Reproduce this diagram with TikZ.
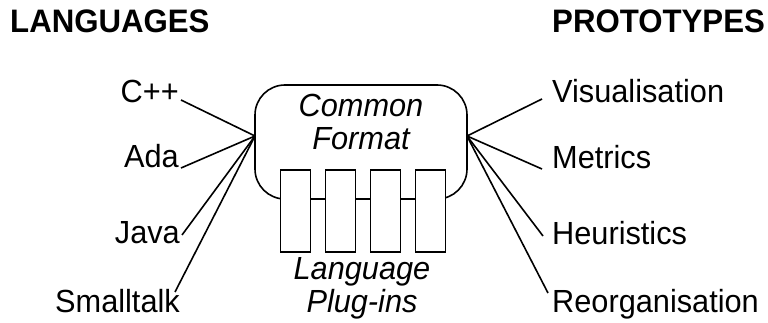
\documentclass[tikz,border=0pt]{standalone}
\usepackage{fontspec}
\setmainfont{Liberation Sans}[FakeStretch=0.96]
\usepackage{tikz}
\tikzset{
    format-box/.style = {draw, fill=white, line width=1.6pt, rectangle, rounded corners=30pt, minimum width=212pt, minimum height=114pt, inner sep=0pt, outer sep=0pt},
    plugin-box/.style = {draw, fill=white, line width=1.6pt, rectangle, minimum width=30pt, minimum height=82pt, inner sep=0pt, outer sep=0pt},
    label-text/.style = {inner sep=0pt, font=\fontsize{32}{33}\selectfont},
    title-text/.style = {inner sep=0pt, font=\fontsize{32.5}{33}\selectfont\bfseries},
    link/.style = {line width=1.6pt},
}

\begin{document}
\begin{tikzpicture}[x=1pt,y=-1pt]
\useasboundingbox (0,0) rectangle (768,323);
% titles
\node[title-text, anchor=base west] (lang) at (10,33) {LANGUAGES};
\node[title-text, anchor=base west] (proto) at (552,33) {PROTOTYPES};
% common format with the plug-ins
\node[format-box] (fmt) at (361,142) {};
\node[label-text, align=center, anchor=base] (fmttext) at (361,150) {\itshape Common\\\itshape Format};
\node[plugin-box] (p1) at (295.5,211) {};
\node[plugin-box] (p2) at (340.5,211) {};
\node[plugin-box] (p3) at (385.5,211) {};
\node[plugin-box] (p4) at (430.5,211) {};
\node[label-text, align=center, anchor=base] (plugtext) at (362,312) {\itshape Language\\\itshape Plug-ins};
\coordinate (lhub) at ([yshift=6pt]fmt.west);
\coordinate (rhub) at ([yshift=6pt]fmt.east);
% languages
\node[label-text, anchor=base east] (cpp) at (179,103) {C++};
\node[label-text, anchor=base east] (ada) at (179,168) {Ada};
\node[label-text, anchor=base east] (java) at (180,243) {Java};
\node[label-text, anchor=base east] (smalltalk) at (180,312) {Smalltalk};
% prototypes
\node[label-text, anchor=base west] (vis) at (552,103) {Visualisation};
\node[label-text, anchor=base west] (metrics) at (552,169) {Metrics};
\node[label-text, anchor=base west] (heur) at (552,244) {Heuristics};
\node[label-text, anchor=base west] (reorg) at (552,312) {Reorganisation};
% links
\draw[link] (lhub) -- ([shift={(2,-3)}]cpp.base east);
\draw[link] (lhub) -- ([shift={(2,0)}]ada.base east);
\draw[link] (lhub) -- ([shift={(2,-8)}]java.base east);
\draw[link] (lhub) -- ([shift={(-5,-20)}]smalltalk.base east);
\draw[link] (rhub) -- ([shift={(-10,-4)}]vis.base west);
\draw[link] (rhub) -- ([shift={(-10,0)}]metrics.base west);
\draw[link] (rhub) -- ([shift={(-9,-8)}]heur.base west);
\draw[link] (rhub) -- ([shift={(-4,-19)}]reorg.base west);
\end{tikzpicture}
\end{document}
